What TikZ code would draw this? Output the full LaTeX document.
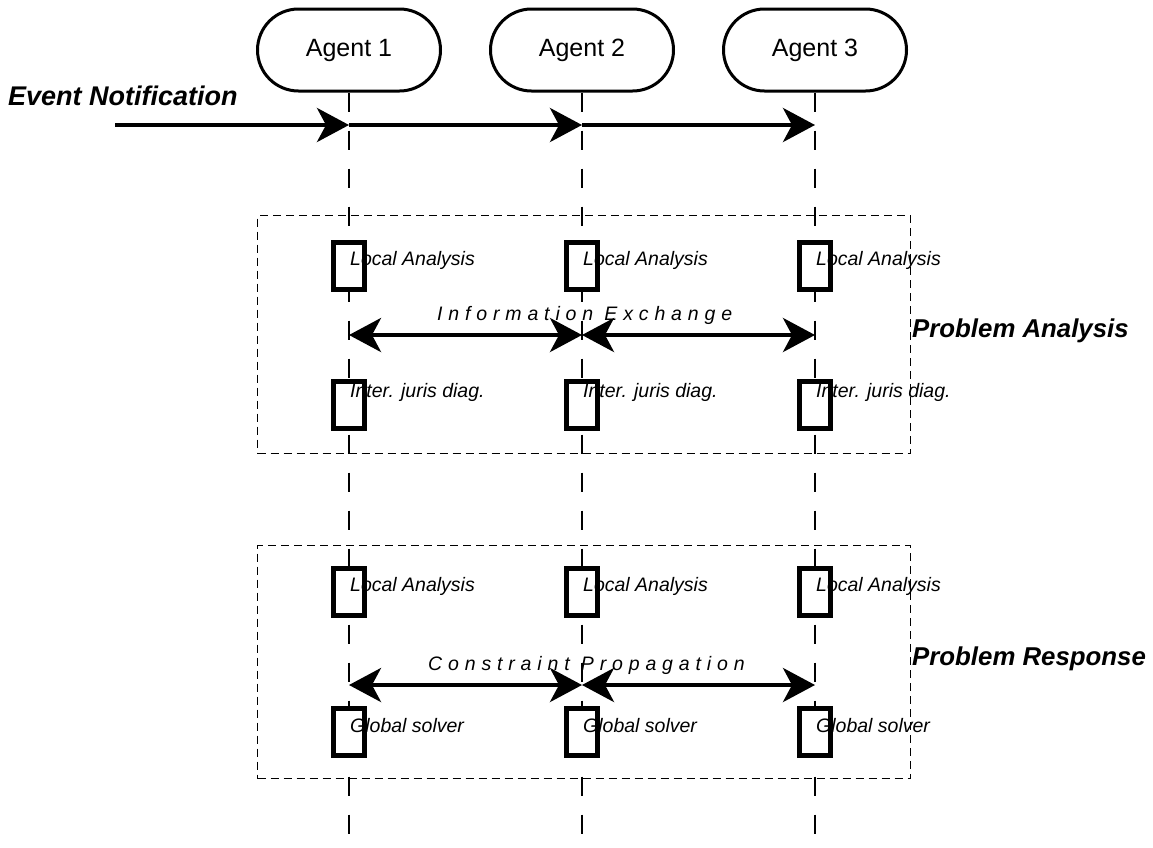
\documentclass[tikz,border=0pt]{standalone}
\usepackage{fontspec}
\setmainfont{Liberation Sans}
\usetikzlibrary{arrows.meta}
\begin{document}
\begin{tikzpicture}[x=1pt,y=-1pt,
 agent/.style={draw,line width=3pt,rounded corners=41pt,minimum width=183pt,minimum height=82pt,font=\fontsize{25}{28}\selectfont},
 act/.style={draw,line width=5pt,fill=white,minimum width=31pt,minimum height=47pt,inner sep=0pt},
 acttext/.style={anchor=base west,inner sep=0pt,font=\fontsize{19.5}{22}\selectfont\itshape},
 life/.style={line width=1.8pt,dash pattern=on 19pt off 19pt},
 frame/.style={draw,line width=1pt,dash pattern=on 8pt off 5pt,anchor=north west,minimum width=653pt,inner sep=0pt},
 tip/.tip={Stealth[length=32pt,width=34pt,inset=9pt]},
 msg/.style={line width=4pt,-tip},
 bmsg/.style={line width=4pt,tip-tip},
 title/.style={anchor=base west,inner sep=0pt,font=\fontsize{25.8}{30}\selectfont\bfseries\itshape},
 spaced/.style={anchor=base west,inner sep=0pt,font=\fontsize{19.5}{22}\selectfont\itshape\addfontfeature{LetterSpace=30}}]
\useasboundingbox (0,0) rectangle (1153,847);

% frames
\node[frame,minimum height=238pt] (pa) at (257,215) {};
\node[frame,minimum height=233pt] (pr) at (257,545) {};

% agents
\node[agent] (a1) at (349,50) {Agent 1};
\node[agent] (a2) at (582,50) {Agent 2};
\node[agent] (a3) at (815,50) {Agent 3};

% lifelines
\coordinate (e1) at (349,847);
\coordinate (e2) at (582,847);
\coordinate (e3) at (815,847);
\draw[life] (a1.south) -- (e1);
\draw[life] (a2.south) -- (e2);
\draw[life] (a3.south) -- (e3);

% activation boxes
\foreach \i/\x in {1/349,2/582,3/815}{
  \node[act] (la\i) at (\x,266) {};
  \node[act] (ij\i) at (\x,405) {};
  \node[act] (lr\i) at (\x,592) {};
  \node[act] (gs\i) at (\x,732) {};
  \node[acttext] (tla\i) at (\x+1,265) {Local Analysis};
  \node[acttext] (tij\i) at (\x+1,397) {Inter. juris diag.};
  \node[acttext] (tlr\i) at (\x+1,591) {Local Analysis};
  \node[acttext] (tgs\i) at (\x+1,732) {Global solver};
}

% event notification
\node[title,font=\fontsize{27}{30}\selectfont\bfseries\itshape] (ev) at (8,105) {Event Notification};
\coordinate (n0) at (115,125);
\coordinate (n1) at (349,125);
\coordinate (n2) at (582,125);
\coordinate (n3) at (815,125);
\draw[msg] (n0) -- (n1);
\draw[msg] (n1) -- (n2);
\draw[msg] (n2) -- (n3);

% information exchange
\node[spaced] (ie) at (437,320) {Information Exchange};
\coordinate (i1) at (349,335);
\coordinate (i2) at (582,335);
\coordinate (i3) at (815,335);
\draw[bmsg] (i1) -- (i2);
\draw[bmsg] (i2) -- (i3);

% constraint propagation
\node[spaced] (cp) at (428,670) {Constraint Propagation};
\coordinate (c1) at (349,685);
\coordinate (c2) at (582,685);
\coordinate (c3) at (815,685);
\draw[bmsg] (c1) -- (c2);
\draw[bmsg] (c2) -- (c3);

% phase titles
\node[title] (pat) at (912,337) {Problem Analysis};
\node[title] (prt) at (912,665) {Problem Response};
\end{tikzpicture}
\end{document}
